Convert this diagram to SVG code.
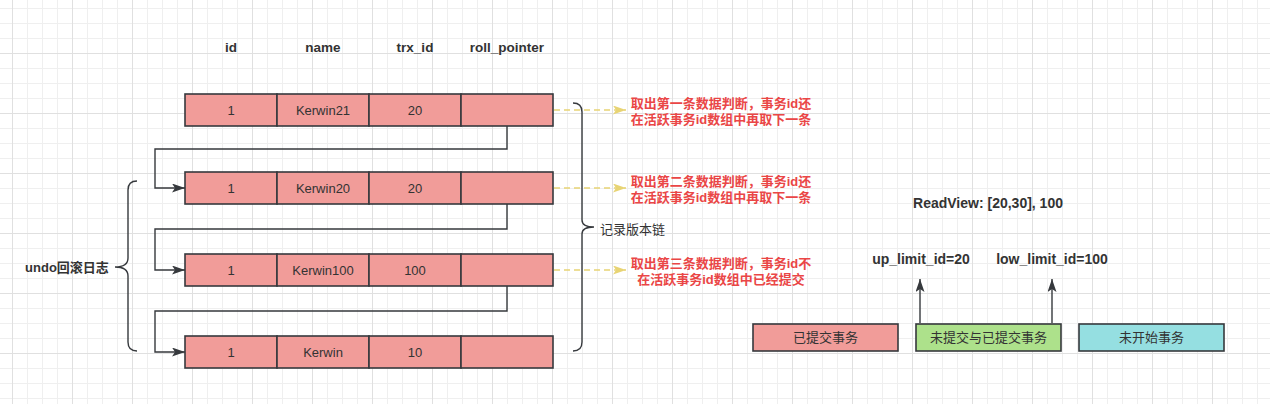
<svg xmlns="http://www.w3.org/2000/svg" width="1270" height="404" viewBox="0 0 1270 404">
<defs>
<pattern id="grid" patternUnits="userSpaceOnUse" x="12" y="-7" width="60" height="60">
<path d="M15.5,0V60M30.5,0V60M45.5,0V60M0,15.5H60M0,30.5H60M0,45.5H60" stroke="#efefef" stroke-width="1" fill="none"/>
<path d="M0.5,0V60M0,0.5H60" stroke="#e0e0e0" stroke-width="1" fill="none"/>
</pattern>
<marker id="arr" markerUnits="userSpaceOnUse" viewBox="0 0 13 9" refX="13" refY="4.5" markerWidth="13" markerHeight="9" orient="auto">
<path d="M0,0L13,4.5L0,9L3,4.5Z" fill="#36393d"/>
</marker>
<marker id="arrY" markerUnits="userSpaceOnUse" viewBox="0 0 13 9" refX="13" refY="4.5" markerWidth="13" markerHeight="9" orient="auto">
<path d="M0,0L13,4.5L0,9L3,4.5Z" fill="#e8d474"/>
</marker>
</defs>
<style>
.cell{fill:#f19c99;stroke:#36393d;stroke-width:1.6}
.t{font-family:"Liberation Sans","Noto Sans CJK SC",sans-serif;font-size:13px;fill:#333;text-anchor:middle;dominant-baseline:central}
.b{font-weight:bold}
.h{font-size:13.5px}
.rv{font-size:14px}
.red{fill:#ea4646;font-weight:bold}
.ln{fill:none;stroke:#36393d;stroke-width:1.4}
.dash{fill:none;stroke:#e8d474;stroke-width:1.6;stroke-dasharray:6 4}
</style>
<rect width="1270" height="404" fill="#ffffff"/>
<rect width="1270" height="404" fill="url(#grid)"/>

<g id="headers">
<text class="t b h" x="231" y="47">id</text>
<text class="t b h" x="323" y="47">name</text>
<text class="t b h" x="415" y="47">trx_id</text>
<text class="t b h" x="507" y="47">roll_pointer</text>
</g>

<g id="row1">
<rect class="cell" x="185" y="94" width="92" height="32"/>
<rect class="cell" x="277" y="94" width="92" height="32"/>
<rect class="cell" x="369" y="94" width="92" height="32"/>
<rect class="cell" x="461" y="94" width="92" height="32"/>
<text class="t" x="231" y="110">1</text>
<text class="t" x="323" y="110">Kerwin21</text>
<text class="t" x="415" y="110">20</text>
</g>
<g id="row2">
<rect class="cell" x="185" y="172" width="92" height="32"/>
<rect class="cell" x="277" y="172" width="92" height="32"/>
<rect class="cell" x="369" y="172" width="92" height="32"/>
<rect class="cell" x="461" y="172" width="92" height="32"/>
<text class="t" x="231" y="188">1</text>
<text class="t" x="323" y="188">Kerwin20</text>
<text class="t" x="415" y="188">20</text>
</g>
<g id="row3">
<rect class="cell" x="185" y="254" width="92" height="32"/>
<rect class="cell" x="277" y="254" width="92" height="32"/>
<rect class="cell" x="369" y="254" width="92" height="32"/>
<rect class="cell" x="461" y="254" width="92" height="32"/>
<text class="t" x="231" y="270">1</text>
<text class="t" x="323" y="270">Kerwin100</text>
<text class="t" x="415" y="270">100</text>
</g>
<g id="row4">
<rect class="cell" x="185" y="336" width="92" height="32"/>
<rect class="cell" x="277" y="336" width="92" height="32"/>
<rect class="cell" x="369" y="336" width="92" height="32"/>
<rect class="cell" x="461" y="336" width="92" height="32"/>
<text class="t" x="231" y="352">1</text>
<text class="t" x="323" y="352">Kerwin</text>
<text class="t" x="415" y="352">10</text>
</g>

<g id="undo-brace">
<path class="ln" d="M137,181Q128,181 128,190V258Q128,267 115,267Q128,267 128,276V342Q128,351 137,351"/>
<text class="t b" x="67" y="267">undo回滚日志</text>
</g>
<g id="chain-brace">
<path class="ln" d="M573,103Q582,103 582,112V220Q582,227 594,227Q582,227 582,234V342Q582,351 573,351"/>
<text class="t" x="600" y="229" style="text-anchor:start">记录版本链</text>
</g>

<g id="notes">
<text class="t red" x="721" y="103">取出第一条数据判断，事务id还</text>
<text class="t red" x="721" y="119">在活跃事务id数组中再取下一条</text>
<text class="t red" x="721" y="181">取出第二条数据判断，事务id还</text>
<text class="t red" x="721" y="197">在活跃事务id数组中再取下一条</text>
<text class="t red" x="721" y="263">取出第三条数据判断，事务id不</text>
<text class="t red" x="721" y="279">在活跃事务id数组中已经提交</text>
</g>

<g id="readview">
<text class="t b rv" x="988" y="203">ReadView: [20,30], 100</text>
<text class="t b rv" x="921" y="259">up_limit_id=20</text>
<text class="t b rv" x="1052" y="259">low_limit_id=100</text>
</g>

<g id="legend-committed">
<rect x="753" y="324" width="145" height="27" fill="#f19c99" stroke="#36393d" stroke-width="1.6"/>
<text class="t" x="825.5" y="337.5">已提交事务</text>
</g>
<g id="legend-mixed">
<rect x="916" y="324" width="145" height="27" fill="#ade18b" stroke="#36393d" stroke-width="1.6"/>
<text class="t" x="988.5" y="337.5">未提交与已提交事务</text>
</g>
<g id="legend-notstarted">
<rect x="1079" y="324" width="145" height="27" fill="#95dfe1" stroke="#36393d" stroke-width="1.6"/>
<text class="t" x="1151.5" y="337.5">未开始事务</text>
</g>

<g id="connectors">
<path class="ln" d="M507,126V149H155V188H185" marker-end="url(#arr)"/>
<path class="ln" d="M507,204V229H155V270H185" marker-end="url(#arr)"/>
<path class="ln" d="M507,286V311H155V352H185" marker-end="url(#arr)"/>
<path class="dash" d="M554,110H626" marker-end="url(#arrY)"/>
<path class="dash" d="M554,188H626" marker-end="url(#arrY)"/>
<path class="dash" d="M554,270H626" marker-end="url(#arrY)"/>
<path class="ln" d="M920,323V279" marker-end="url(#arr)"/>
<path class="ln" d="M1052,323V279" marker-end="url(#arr)"/>
</g>
</svg>
